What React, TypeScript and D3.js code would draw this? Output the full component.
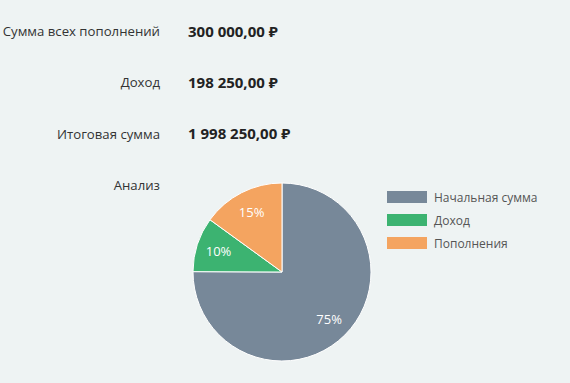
import React, { useEffect, useRef } from "react";
import * as d3 from "d3";

const summaryLabels = ["Сумма всех пополнений", "Доход", "Итоговая сумма"];
const summaryValues = ["300 000,00 ₽", "198 250,00 ₽", "1 998 250,00 ₽"];
const analysisTitle = "Анализ";
const categories = ["Начальная сумма", "Доход", "Пополнения"];
const values = [1500000, 198250, 300000];
const colors = ["#778899", "#3cb371", "#f4a460"];

const W = 570;
const H = 383;

export default function App() {
  const ref = useRef<SVGSVGElement>(null);
  useEffect(() => {
    const svg = d3.select(ref.current);
    svg.selectAll("*").remove();
    svg.append("rect").attr("width", W).attr("height", H).attr("fill", "#eef3f3");
    const font = "'Open Sans', 'Noto Sans', sans-serif";

    const rowY = d3.scalePoint<number>().domain([0, 1, 2, 3]).range([36, 190]);
    summaryLabels.forEach((lab, i) => {
      svg.append("text").attr("x", 160).attr("y", rowY(i)!).attr("text-anchor", "end")
        .attr("font-family", font).attr("font-size", 13.2).attr("fill", "#333").text(lab);
      svg.append("text").attr("x", 188).attr("y", rowY(i)! + 0.5)
        .attr("font-family", font).attr("font-size", 15).attr("font-weight", 700)
        .attr("fill", "#222").text(summaryValues[i]);
    });
    svg.append("text").attr("x", 160).attr("y", rowY(3)!).attr("text-anchor", "end")
      .attr("font-family", font).attr("font-size", 13.2).attr("fill", "#333").text(analysisTitle);

    const cx = 282, cy = 272, r = 89;
    const total = d3.sum(values);
    const pie = d3.pie<number>().sort(null).value((d) => d);
    const arcs = pie(values);
    const arc = d3.arc<d3.PieArcDatum<number>>().innerRadius(0).outerRadius(r);
    const labelArc = d3.arc<d3.PieArcDatum<number>>().innerRadius(r * 0.75).outerRadius(r * 0.75);
    const g = svg.append("g").attr("transform", `translate(${cx},${cy})`);
    g.selectAll("path").data(arcs).join("path")
      .attr("d", arc as any).attr("fill", (_, i) => colors[i])
      .attr("stroke", "#ffffff").attr("stroke-width", 1);
    g.selectAll("text").data(arcs).join("text")
      .attr("transform", (d) => `translate(${labelArc.centroid(d)})`)
      .attr("text-anchor", "middle").attr("dy", "0.35em")
      .attr("font-family", font).attr("font-size", 13).attr("fill", "#fff")
      .text((d) => `${Math.round((d.data / total) * 100)}%`);

    const ly = d3.scaleBand<number>().domain([0, 1, 2]).range([191, 260]).paddingInner(0);
    categories.forEach((c, i) => {
      const y = ly(i)!;
      svg.append("rect").attr("x", 387).attr("y", y).attr("width", 40).attr("height", 12)
        .attr("fill", colors[i]);
      svg.append("text").attr("x", 434).attr("y", y + 10.5)
        .attr("font-family", font).attr("font-size", 12).attr("fill", "#555").text(c);
    });
  }, []);
  return (
    <div style={{ position: "fixed", left: 0, top: 0, width: W, height: H }}>
      <svg ref={ref} width={W} height={H} style={{ display: "block" }} />
    </div>
  );
}
